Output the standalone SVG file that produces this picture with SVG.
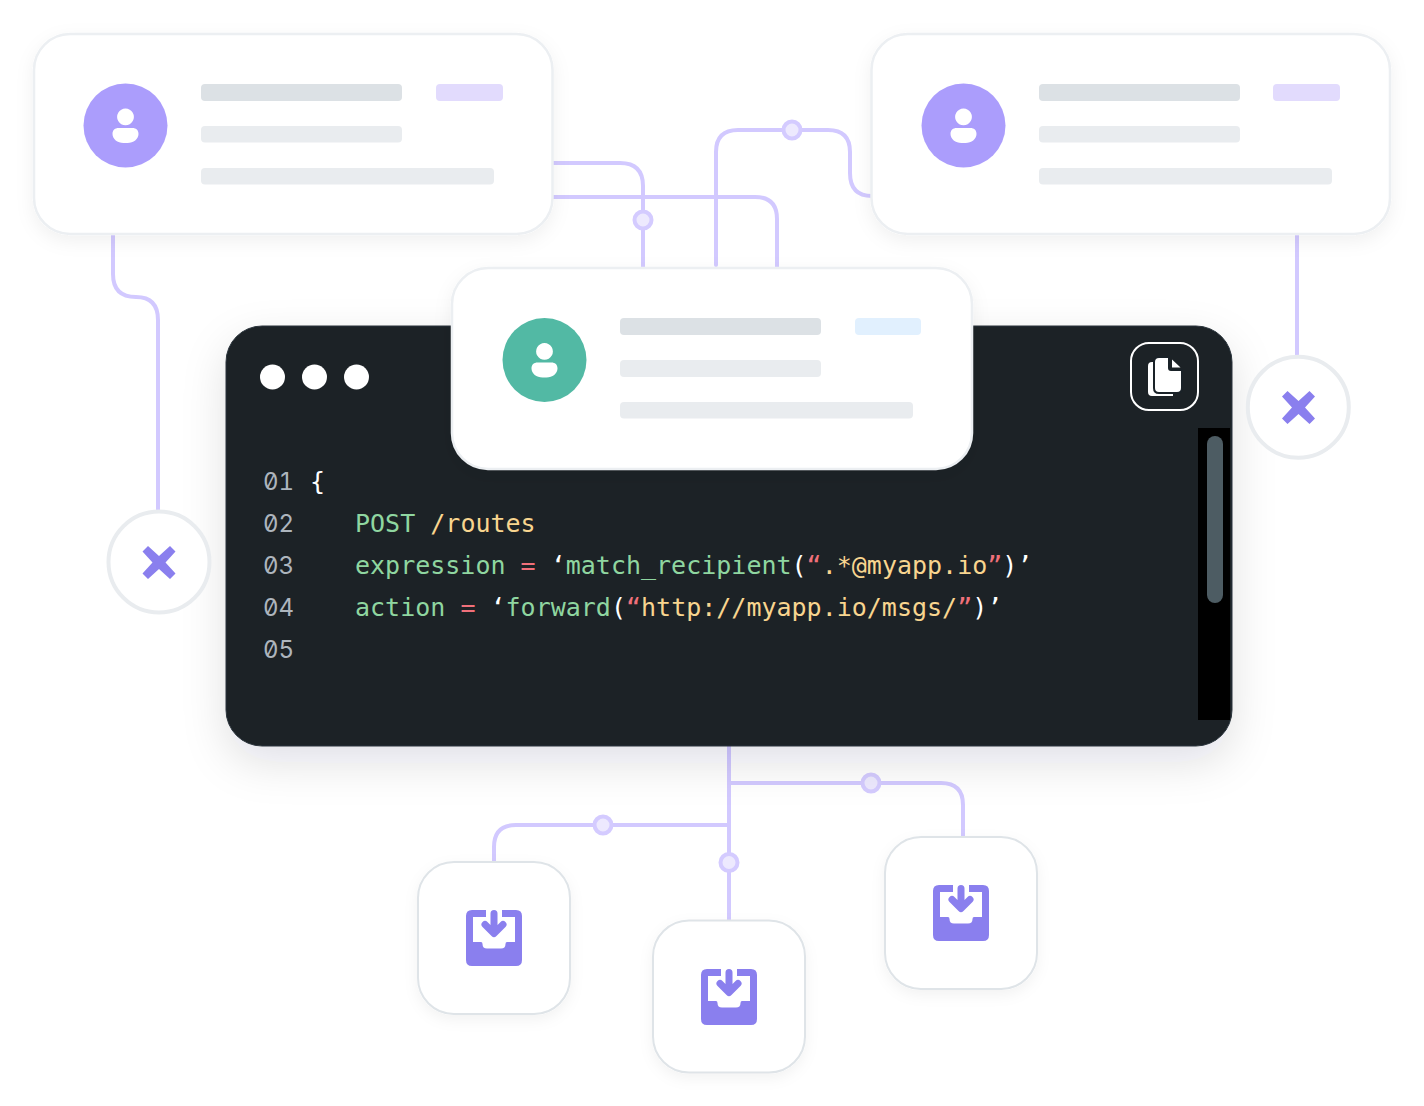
<svg xmlns="http://www.w3.org/2000/svg" width="1424" height="1106" viewBox="0 0 1424 1106">
<style>
.card{fill:#fff;stroke:#ECEFF2;stroke-width:2.500;filter:url(#sh)}
.box{fill:#fff;stroke:#DFE4E8;stroke-width:2;filter:url(#sh2)}
.ring{fill:#fff;stroke:#E9ECEF;stroke-width:4}
.wire{fill:none;stroke:#D2C9FF;stroke-width:4}
.dot{fill:#EDE9FE;stroke:#D4CBFF;stroke-width:4}
.b1{fill:#DCE1E5}.b2{fill:#E9ECEF}
.tag{fill:#E2DBFD}
.av{fill:#AB9DFC}
.ink{fill:#8A7FEE}
.arrow{fill:none;stroke:#8A7FEE;stroke-width:7;stroke-linecap:round;stroke-linejoin:round}
text{font-family:"DejaVu Sans Mono","Liberation Mono",monospace;font-size:25px;white-space:pre}
text.n{font-family:Inter,"Liberation Sans",sans-serif;font-size:24px;font-feature-settings:"zero","tnum";fill:#ADB5BD}
.g{fill:#8FD6A0}.y{fill:#F8D58F}.r{fill:#F0707A}.w{fill:#fff}
</style>
<defs>
<filter id="sh" x="-15%" y="-25%" width="130%" height="160%"><feDropShadow dx="0" dy="6" stdDeviation="9" flood-color="#1A2127" flood-opacity=".06"/></filter>
<filter id="sh2" x="-25%" y="-25%" width="150%" height="160%"><feDropShadow dx="0" dy="5" stdDeviation="7" flood-color="#1A2127" flood-opacity=".05"/></filter>
<filter id="sh3" x="-10%" y="-20%" width="120%" height="150%"><feDropShadow dx="0" dy="16" stdDeviation="22" flood-color="#1A2127" flood-opacity=".12"/></filter>
<path id="person" class="w" d="M0-17a8.400 8.400 0 1 1-.01 0zM-7 2.500H7C10.500 2.500 13 4.500 13 8.500C13 13.500 8 17.500 2 17.500H-2C-8 17.500-13 13.500-13 8.500C-13 4.500-10.500 2.500-7 2.500z"/>
<path id="cross" class="ink" d="M-11-16.500 0-6.500 11-16.500 16.500-11 6.500 0 16.500 11 11 16.500 0 6.500-11 16.500-16.500 11-6.500 0-16.500-11z"/>
<g id="inbox">
<path class="ink" d="M-22-28H-8V-21H-21V4H-13Q-11.500 4-11.500 6Q-11.500 10.500-7 10.500H7Q11.500 10.500 11.500 6Q11.500 4 13 4H21V-21H8V-28H22Q28-28 28-22V22Q28 28 22 28H-22Q-28 28-28 22V-22Q-28-28-22-28z"/>
<path class="arrow" d="M0-24.500V-5M-9-13.500 0-4.500 9-13.500"/>
</g>
</defs>

<g id="connectors">
<path class="wire" d="M553 163H620Q643 163 643 186V268"/>
<path class="wire" d="M553 197H755Q777 197 777 219V268"/>
<path class="wire" stroke-linecap="round" d="M716 265V152Q716 130 738 130H828Q850 130 850 152V173Q850 196 872 196"/>
<path class="wire" d="M113 235V274Q113 297 136 297Q158 297 158 320V511"/>
<path class="wire" d="M1297 235V356"/>
<path class="wire" d="M729 746V920"/>
<path class="wire" d="M729 783H941Q963 783 963 805V837"/>
<path class="wire" d="M729 825H516Q494 825 494 847V862"/>
<circle class="dot" cx="643" cy="220" r="8.500"/>
<circle class="dot" cx="792" cy="130" r="8.500"/>
<circle class="dot" cx="871" cy="783" r="8.500"/>
<circle class="dot" cx="603" cy="825" r="8.500"/>
<circle class="dot" cx="729" cy="862.500" r="8.500"/>
</g>

<g id="card-left">
<rect class="card" x="34" y="34" width="518.500" height="200" rx="36"/>
<circle class="av" cx="125.500" cy="125.500" r="42"/>
<use href="#person" x="125.500" y="125.500"/>
<rect class="b1" x="201" y="84" width="201" height="17" rx="4"/>
<rect class="tag" x="436" y="84" width="67" height="17" rx="4"/>
<rect class="b2" x="201" y="126" width="201" height="16.500" rx="4"/>
<rect class="b2" x="201" y="168" width="293" height="16.500" rx="4"/>
</g>

<g id="card-right">
<rect class="card" x="871.500" y="34" width="518.500" height="200" rx="36"/>
<circle class="av" cx="963.500" cy="125.500" r="42"/>
<use href="#person" x="963.500" y="125.500"/>
<rect class="b1" x="1039" y="84" width="201" height="17" rx="4"/>
<rect class="tag" x="1273" y="84" width="67" height="17" rx="4"/>
<rect class="b2" x="1039" y="126" width="201" height="16.500" rx="4"/>
<rect class="b2" x="1039" y="168" width="293" height="16.500" rx="4"/>
</g>

<g id="code-panel">
<rect x="226" y="326" width="1006" height="420" rx="36" fill="#1A2228" stroke="#2B343B" stroke-width="1" filter="url(#sh3)"/>
<circle class="w" cx="272.500" cy="377" r="12.500"/>
<circle class="w" cx="314.500" cy="377" r="12.500"/>
<circle class="w" cx="356.500" cy="377" r="12.500"/>
<rect x="1198" y="428" width="32" height="292" fill="#000"/>
<rect x="1207" y="436" width="16" height="167" rx="8" fill="#4D5C63"/>
<g id="copy-button">
<rect x="1131" y="343" width="67" height="67" rx="18" fill="none" stroke="#fff" stroke-width="2"/>
<path class="w" d="M1152 362H1169V396H1152Q1148 396 1148 392V366Q1148 362 1152 362zM1165 385H1173V396H1165z"/>
<path class="w" stroke="#1A2228" stroke-width="2" d="M1159 357H1169V368Q1169 370 1171 370H1182V388Q1182 393 1177 393H1159Q1154 393 1154 388V362Q1154 357 1159 357z"/>
<path class="w" d="M1172 359.500 1180.500 367.500H1172z"/>
</g>
<text class="n" x="263" y="490">01</text>
<text class="n" x="263" y="532">02</text>
<text class="n" x="263" y="574">03</text>
<text class="n" x="263" y="616">04</text>
<text class="n" x="263" y="658">05</text>
<text class="w" x="310" y="490">{</text>
<text x="355" y="532"><tspan class="g">POST</tspan> <tspan class="y">/routes</tspan></text>
<text x="355" y="574"><tspan class="g">expression</tspan> <tspan class="r">=</tspan> <tspan class="w">‘</tspan><tspan class="g">match_recipient</tspan><tspan class="w">(</tspan><tspan class="r">“</tspan><tspan class="y">.*@myapp.io</tspan><tspan class="r">”</tspan><tspan class="w">)’</tspan></text>
<text x="355" y="616"><tspan class="g">action</tspan> <tspan class="r">=</tspan> <tspan class="w">‘</tspan><tspan class="g">forward</tspan><tspan class="w">(</tspan><tspan class="r">“</tspan><tspan class="y">http://myapp.io/msgs/</tspan><tspan class="r">”</tspan><tspan class="w">)’</tspan></text>
</g>

<g id="card-center">
<rect class="card" x="452" y="268" width="520" height="201" rx="36"/>
<circle cx="544.500" cy="360" r="42" fill="#52B9A4"/>
<use href="#person" x="544.500" y="360"/>
<rect class="b1" x="620" y="318" width="201" height="17" rx="4"/>
<rect x="855" y="318" width="66" height="17" rx="4" fill="#E1F0FE"/>
<rect class="b2" x="620" y="360" width="201" height="17" rx="4"/>
<rect class="b2" x="620" y="402" width="293" height="16.500" rx="4"/>
</g>

<g id="reject-left"><circle class="ring" cx="159" cy="562" r="50.500"/><use href="#cross" x="159" y="562.500"/></g>
<g id="reject-right"><circle class="ring" cx="1298.300" cy="407.200" r="50.500"/><use href="#cross" x="1298.500" y="407.500"/></g>

<g id="inbox-left"><rect class="box" x="418" y="862" width="152" height="152" rx="36"/><use href="#inbox" x="494" y="938"/></g>
<g id="inbox-center"><rect class="box" x="653" y="920.500" width="152" height="152" rx="36"/><use href="#inbox" x="729" y="997"/></g>
<g id="inbox-right"><rect class="box" x="885" y="837" width="152" height="152" rx="36"/><use href="#inbox" x="961" y="913"/></g>
</svg>
